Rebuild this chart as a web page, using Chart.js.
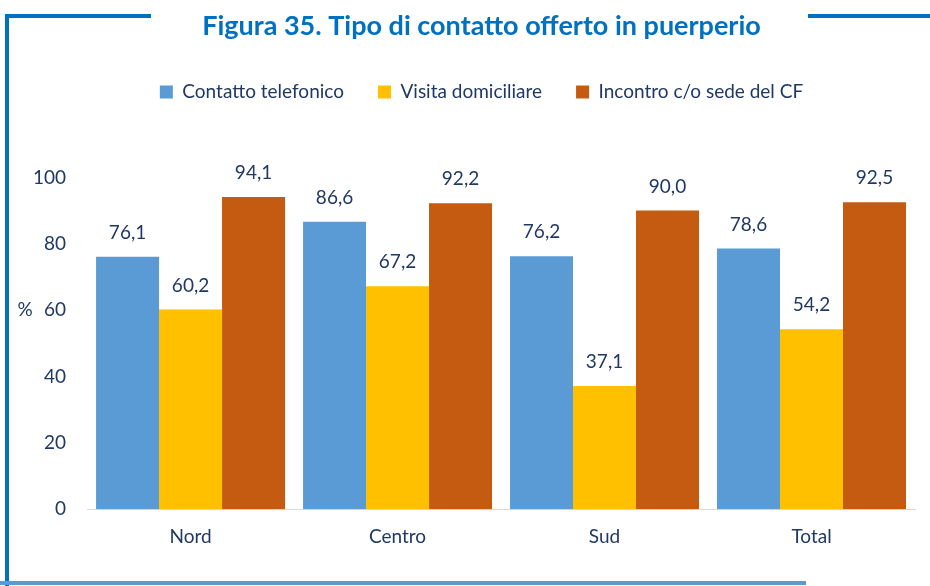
<!DOCTYPE html>
<html>
<head>
<meta charset="utf-8">
<script src="https://cdn.jsdelivr.net/npm/chart.js@4"></script>
<style>
  html, body { margin: 0; padding: 0; background: #fff; }
  #wrap { position: relative; width: 930px; height: 586px; overflow: hidden; }
  #wrap canvas { position: absolute; left: 0; top: 0; }
  .ln { position: absolute; background: #0070C0; }
</style>
</head>
<body>
<div id="wrap">
  <canvas id="chart" width="930" height="586"></canvas>
  <div class="ln" style="left:5px; top:14px; width:146px; height:4px;"></div>
  <div class="ln" style="left:5px; top:14px; width:4px; height:572px;"></div>
  <div class="ln" style="left:808px; top:14px; width:122px; height:4px;"></div>
  <div class="ln" style="left:0; top:581px; width:806px; height:4px; background:#5B9BD5;"></div>
</div>
<script>
// data
const categories = ['Nord', 'Centro', 'Sud', 'Total'];
const telefonico = [76.1, 86.6, 76.2, 78.6];
const domiciliare = [60.2, 67.2, 37.1, 54.2];
const incontro = [94.1, 92.2, 90.0, 92.5];
const seriesNames = ['Contatto telefonico', 'Visita domiciliare', 'Incontro c/o sede del CF'];

const textColor = '#1F3864';
const fontFamily = 'Lato, "Noto Sans", sans-serif';

// value labels above each bar, Italian decimal comma
const valueLabels = {
    id: 'valueLabels',
    afterDatasetsDraw(chart) {
        const ctx = chart.ctx;
        ctx.save();
        ctx.fillStyle = textColor;
        ctx.font = '19px ' + fontFamily;
        ctx.textAlign = 'center';
        ctx.textBaseline = 'middle';
        chart.data.datasets.forEach((ds, i) => {
            chart.getDatasetMeta(i).data.forEach((bar, j) => {
                ctx.fillText(ds.data[j].toFixed(1).replace('.', ','), bar.x, bar.y - 24);
            });
        });
        // the "%" unit next to the y axis
        const y = chart.scales.y;
        ctx.fillText('%', 25, y.getPixelForValue(60));
        ctx.restore();
    }
};

// title and legend sit a bit right of the canvas centre in the original
const shiftHeader = {
    id: 'shiftHeader',
    afterLayout(chart) {
        [chart.titleBlock, chart.legend].forEach(box => {
            box.left += 18;
            box.right += 18;
        });
    }
};

new Chart(document.getElementById('chart'), {
    type: 'bar',
    data: {
        labels: categories,
        datasets: [
            { label: seriesNames[0], data: telefonico, backgroundColor: '#5B9BD5' },
            { label: seriesNames[1], data: domiciliare, backgroundColor: '#FFC000' },
            { label: seriesNames[2], data: incontro, backgroundColor: '#C55A11' }
        ]
    },
    options: {
        responsive: false,
        animation: false,
        layout: { padding: { left: 12, right: 15, top: 0, bottom: 22 } },
        datasets: { bar: { categoryPercentage: 0.913, barPercentage: 1.0 } },
        plugins: {
            title: {
                display: true,
                text: 'Figura 35. Tipo di contatto offerto in puerperio',
                color: '#0070C0',
                font: { family: fontFamily, size: 27, weight: 'bold' },
                padding: { top: 10, bottom: 6 }
            },
            legend: {
                position: 'top',
                labels: {
                    color: textColor,
                    font: { family: fontFamily, size: 19 },
                    boxWidth: 13,
                    boxHeight: 13,
                    padding: 34
                }
            },
            tooltip: { enabled: false }
        },
        scales: {
            x: {
                grid: { display: false, drawTicks: false },
                border: { color: '#D9D9D9', width: 1 },
                ticks: { color: textColor, font: { family: fontFamily, size: 19 }, padding: 16 }
            },
            y: {
                min: 0,
                max: 100,
                grid: { display: false, drawTicks: false },
                border: { display: false },
                ticks: { stepSize: 20, color: textColor, font: { family: fontFamily, size: 19 }, padding: 21 }
            }
        }
    },
    plugins: [valueLabels, shiftHeader, {
        id: 'legendGap',
        beforeInit(chart) {
            const fit = chart.legend.fit;
            chart.legend.fit = function () {
                fit.bind(chart.legend)();
                this.height = 129;
            };
        }
    }]
});
</script>
</body>
</html>
